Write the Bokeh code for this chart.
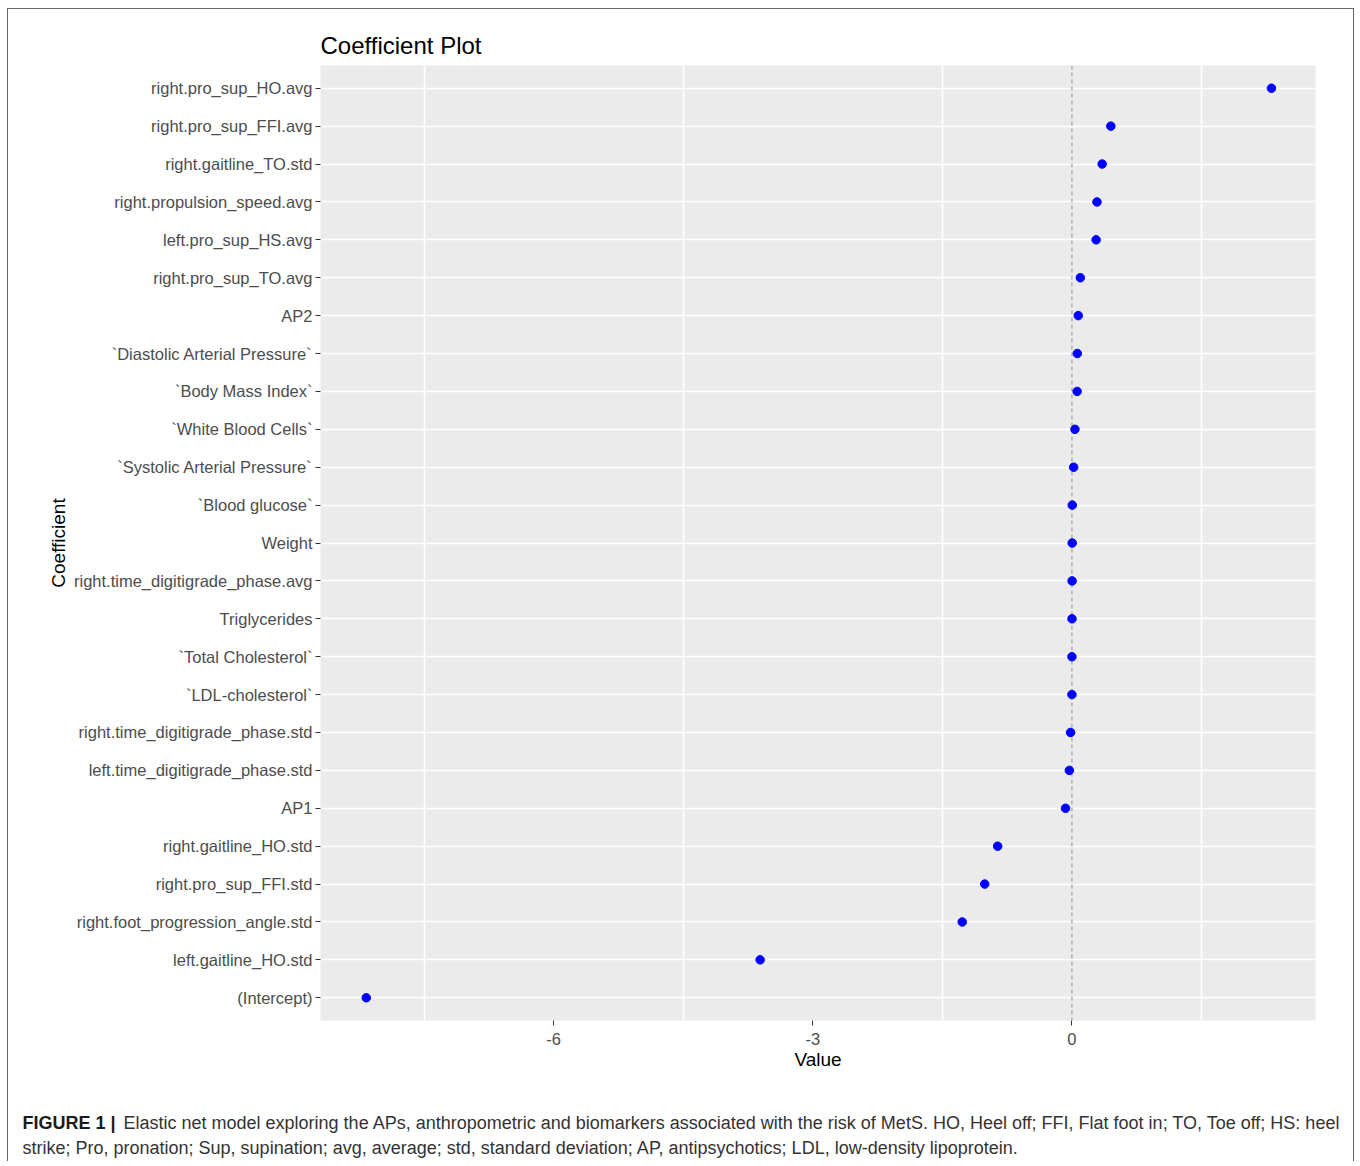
from bokeh.plotting import figure
from bokeh.layouts import column
from bokeh.models import FactorRange, Range1d, FixedTicker, Span, Label
from bokeh.embed import file_html
from bokeh.resources import INLINE

# ---- data (top to bottom as shown) ----
coefficients = [
    "right.pro_sup_HO.avg",
    "right.pro_sup_FFI.avg",
    "right.gaitline_TO.std",
    "right.propulsion_speed.avg",
    "left.pro_sup_HS.avg",
    "right.pro_sup_TO.avg",
    "AP2",
    "`Diastolic Arterial Pressure`",
    "`Body Mass Index`",
    "`White Blood Cells`",
    "`Systolic Arterial Pressure`",
    "`Blood glucose`",
    "Weight",
    "right.time_digitigrade_phase.avg",
    "Triglycerides",
    "`Total Cholesterol`",
    "`LDL-cholesterol`",
    "right.time_digitigrade_phase.std",
    "left.time_digitigrade_phase.std",
    "AP1",
    "right.gaitline_HO.std",
    "right.pro_sup_FFI.std",
    "right.foot_progression_angle.std",
    "left.gaitline_HO.std",
    "(Intercept)",
]
values = [2.31, 0.45, 0.35, 0.29, 0.28, 0.097, 0.073, 0.062, 0.06, 0.035, 0.02,
          0.004, 0.003, 0.002, 0.001, 0.0, 0.0, -0.015, -0.03, -0.074,
          -0.86, -1.01, -1.27, -3.61, -8.17]
x_ticks = [-6, -3, 0]
x_tick_labels = {-6: "-6", -3: "-3", 0: "0"}
x_minor_grid = [-7.5, -4.5, -1.5, 1.5]

title_text = "Coefficient Plot"
caption_bold = "FIGURE 1 |"
caption_line1 = ("Elastic net model exploring the APs, anthropometric and biomarkers associated "
                 "with the risk of MetS. HO, Heel off; FFI, Flat foot in; TO, Toe off; HS: heel")
caption_line2 = ("strike; Pro, pronation; Sup, supination; avg, average; std, standard deviation; "
                 "AP, antipsychotics; LDL, low-density lipoprotein.")

CW = 1345          # content width inside the outer frame
CH1 = 1077         # chart canvas height
CH2 = 75           # caption canvas height

p = figure(
    width=CW, height=CH1,
    y_range=FactorRange(factors=list(reversed(coefficients)),
                        range_padding=0.1, range_padding_units="absolute"),
    x_range=Range1d(-8.70, 2.82),
    output_backend="svg", toolbar_location=None,
    min_border_left=312, min_border_right=38,
    min_border_top=56, min_border_bottom=66,
)
p.frame_align = False
p.background_fill_color = "#EBEBEB"
p.border_fill_color = "white"
p.outline_line_color = None

p.title.text = title_text
p.title.align = "left"
p.title.text_font = "Liberation Sans"
p.title.text_font_size = "24px"
p.title.text_font_style = "normal"
p.title.text_color = "black"
p.title.standoff = 14
p.title.offset = 0

# grid
p.xgrid.ticker = FixedTicker(ticks=x_minor_grid)
p.xgrid.grid_line_color = "white"
p.xgrid.grid_line_width = 1.6
p.ygrid.grid_line_color = "white"
p.ygrid.grid_line_width = 1.6

# axes
p.xaxis.ticker = FixedTicker(ticks=x_ticks)
p.xaxis.major_label_overrides = x_tick_labels
for ax in (p.xaxis[0], p.yaxis[0]):
    ax.axis_line_color = None
    ax.major_tick_in = 0
    ax.major_tick_out = 5
    ax.major_tick_line_color = "#333333"
    ax.minor_tick_line_color = None
    ax.major_label_text_font = "Liberation Sans"
    ax.major_label_text_font_size = "16.5px"
    ax.major_label_text_color = "#4D4D4D"
    ax.axis_label_text_font = "Liberation Sans"
    ax.axis_label_text_font_size = "19px"
    ax.axis_label_text_font_style = "normal"
    ax.axis_label_text_color = "black"
p.xaxis.axis_label = "Value"
p.yaxis.axis_label = "Coefficient"
p.xaxis.major_label_standoff = 7
p.yaxis.major_label_standoff = 3
p.xaxis.axis_label_standoff = 1
p.yaxis.axis_label_standoff = 2

zero = Span(location=0, dimension="height", line_color="#A6A6A6",
            line_dash="4 3", line_width=1.3, level="underlay")
p.add_layout(zero)

p.scatter(x=values, y=coefficients, size=8.5, color="#0000FF")

# ---- caption panel (page-pixel data coordinates) ----
top_y = 9 + CH1
c = figure(width=CW, height=CH2, x_range=Range1d(8, 8 + CW),
           y_range=Range1d(top_y + CH2, top_y),
           output_backend="svg", toolbar_location=None,
           min_border=0, outline_line_color=None)
c.frame_align = False
c.axis.visible = False
c.grid.visible = False
c.background_fill_color = "white"
c.border_fill_color = "white"

cap_font = "Liberation Sans"
cap_size = "18px"
c.add_layout(Label(x=22, y=1122, text=caption_bold, text_font=cap_font,
                   text_font_style="bold", text_font_size=cap_size,
                   text_baseline="middle", text_color="#1A1A1A"))
c.add_layout(Label(x=123, y=1122, text=caption_line1, text_font=cap_font,
                   text_font_size=cap_size, text_baseline="middle", text_color="#333333"))
c.add_layout(Label(x=22, y=1147, text=caption_line2, text_font=cap_font,
                   text_font_size=cap_size, text_baseline="middle", text_color="#333333"))

layout = column(p, c, spacing=0, margin=(8, 0, 0, 7),
                styles={"border-left": "1px solid #666666",
                        "border-top": "1px solid #666666",
                        "border-right": "1px solid #666666"})

open("out.html", "w").write(file_html(layout, INLINE))
